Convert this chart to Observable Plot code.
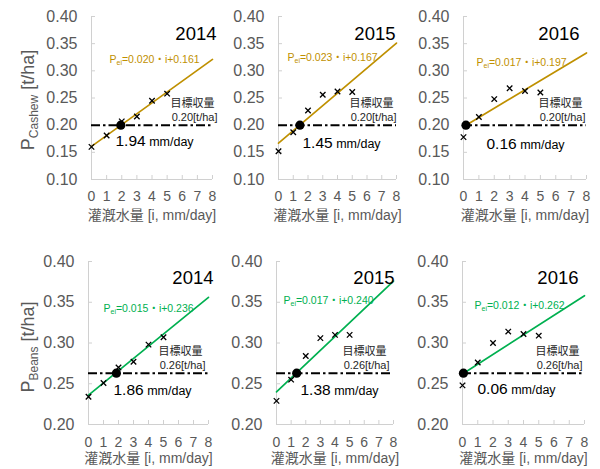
<!DOCTYPE html>
<html><head><meta charset="utf-8">
<script src="https://cdn.jsdelivr.net/npm/d3@7"></script>
<script src="https://cdn.jsdelivr.net/npm/@observablehq/plot@0.6"></script>
<style>
html,body{margin:0;padding:0;background:#fff;overflow:hidden;}
#chart{position:relative;width:600px;height:469px;font-family:"Liberation Sans",Arial,"Noto Sans CJK JP",sans-serif;}
.ylab{position:absolute;transform:translate(-50%,-50%) rotate(-90deg);white-space:nowrap;font-size:18px;line-height:18px;color:#595959;}
.ylab span{font-size:12px;line-height:0;vertical-align:-4px;}
</style></head><body><div id="chart"></div>
<script>
// ---- data ----
const years = [2014, 2015, 2016];
const irrigation = [0, 1, 2, 3, 4, 5];
const xTicks = [0, 1, 2, 3, 4, 5, 6, 7, 8];
const cashewTicks = [0.10, 0.15, 0.20, 0.25, 0.30, 0.35, 0.40];
const beansTicks = [0.20, 0.25, 0.30, 0.35, 0.40];
const cashew2014 = [0.160, 0.181, 0.207, 0.216, 0.245, 0.258];
const cashew2015 = [0.152, 0.187, 0.227, 0.256, 0.262, 0.261];
const cashew2016 = [0.178, 0.215, 0.248, 0.268, 0.263, 0.260];
const beans2014 = [0.234, 0.251, 0.270, 0.277, 0.298, 0.307];
const beans2015 = [0.229, 0.255, 0.284, 0.306, 0.310, 0.310];
const beans2016 = [0.248, 0.276, 0.300, 0.314, 0.311, 0.309];
const cashewSlope = [0.020, 0.023, 0.017];
const cashewIntercept = [0.161, 0.167, 0.197];
const beansSlope = [0.015, 0.017, 0.012];
const beansIntercept = [0.236, 0.240, 0.262];
const cashewCross = [1.94, 1.45, 0.16];
const beansCross = [1.86, 1.38, 0.06];
const cashewTarget = 0.20, beansTarget = 0.263;
const cashewTargetLabel = "0.20[t/ha]", beansTargetLabel = "0.26[t/ha]";
const targetName = "目標収量";
const xLabel = "灌漑水量 [i, mm/day]";

// ---- layout (pixels) ----
const frames = [
  [91, 212, 16, 179], [278, 396, 16, 179], [463, 586, 16, 179],
  [88, 208, 261, 424], [276, 393, 261, 424], [462, 584, 261, 424]
];
const layouts = [
  {yearDx: 4, eq: [18, 39], tgtDx: 5, cross: [24, 16], xPad: 12, xLab: 40, yearDy: 10.5},
  {yearDx: -1, eq: [9, 37], tgtDx: 0, cross: [24, 18], xPad: 12, xLab: 40, yearDy: 10.5},
  {yearDx: -7, eq: [13, 42], tgtDx: -1, cross: [23, 19], xPad: 12, xLab: 40, yearDy: 10.5},
  {yearDx: 5, eq: [15, 43], tgtDx: -3, cross: [25, 17], xPad: 13, xLab: 38, yearDy: 9.5},
  {yearDx: 1, eq: [7, 35], tgtDx: -4, cross: [24, 17], xPad: 13, xLab: 38, yearDy: 9.5},
  {yearDx: -6, eq: [12, 40], tgtDx: -2, cross: [15, 16], xPad: 13, xLab: 38, yearDy: 9.5}
];
const axisGrey = "#d0d0d0", labelGrey = "#595959";
const gold = "#BF9000", green = "#00B050";
const font = '"Liberation Sans", Arial, "Noto Sans CJK JP", sans-serif';

const chart = document.getElementById("chart");

function panel(k, cfg) {
  const [fl, fr, ft, fb] = frames[k];
  const lay = layouts[k];
  const mL = 60, mR = 10, mT = 10, mB = 50;
  const fw = fr - fl, fh = fb - ft;
  const fit = [0, 8].map(x => ({x, y: cfg.intercept + cfg.slope * x}));
  const fmt = d3.format(".3f");
  const eqText = "Pei=" + fmt(cfg.slope) + "・i+" + fmt(cfg.intercept);
  const svg = Plot.plot({
    width: mL + fw + mR, height: mT + fh + mB,
    marginLeft: mL, marginRight: mR, marginTop: mT, marginBottom: mB,
    x: {domain: [0, 8]},
    y: {domain: cfg.yDomain},
    style: {background: "transparent", overflow: "visible", fontFamily: font},
    marks: [
      Plot.ruleX([0], {stroke: axisGrey}),
      Plot.ruleY([cfg.yDomain[0]], {stroke: axisGrey}),
      Plot.tickX(xTicks, {x: d => d, stroke: axisGrey, insetTop: fh - 4}),
      Plot.tickY(cfg.yTicks, {y: d => d, stroke: axisGrey, insetRight: fw - 4}),
      Plot.axisX(xTicks, {tickSize: 0, tickPadding: lay.xPad, fontSize: 14, color: labelGrey, label: null}),
      Plot.axisY(cfg.yTicks, {tickSize: 0, tickPadding: 14, fontSize: 16, color: labelGrey, tickFormat: d3.format(".2f"), label: null}),
      Plot.text([xLabel], {text: d => d, frameAnchor: "bottom", dy: lay.xLab, fontSize: 14, fill: labelGrey}),
      Plot.ruleY([cfg.target], {stroke: "black", strokeWidth: 2, strokeDasharray: "9,3,2.5,3"}),
      Plot.line(fit, {x: "x", y: "y", stroke: cfg.color, strokeWidth: 1.7}),
      Plot.dot(irrigation, {x: d => d, y: (d, i) => cfg.pts[i], symbol: "times", r: 2.6, stroke: "black", strokeWidth: 1.3}),
      Plot.dot([cfg.cross], {x: d => d, y: () => cfg.target, r: 4.6, fill: "black"}),
      Plot.text([cfg.year], {text: d => String(d), frameAnchor: "top-right", textAnchor: "end", dx: lay.yearDx, dy: lay.yearDy, fontSize: 18.5, fill: "black"}),
      Plot.text([eqText], {text: d => d, frameAnchor: "top-left", textAnchor: "start", dx: lay.eq[0], dy: lay.eq[1], fontSize: 10.5, fill: cfg.color}),
      Plot.text([targetName], {text: d => d, y: () => cfg.target, frameAnchor: "right", textAnchor: "end", dx: lay.tgtDx - 3, dy: -22, fontSize: 11, fill: "#262626"}),
      Plot.text([cfg.targetLabel], {text: d => d, y: () => cfg.target, frameAnchor: "right", textAnchor: "end", dx: lay.tgtDx, dy: -8, fontSize: 11, fill: "#262626"}),
      Plot.text([cfg.cross], {text: d => d3.format(".2f")(d) + " mm/day", y: () => cfg.target, frameAnchor: "left", textAnchor: "start", dx: lay.cross[0], dy: lay.cross[1], fontSize: 15.5, fill: "black"})
    ]
  });
  // rich text: subscripts and mixed sizes
  d3.select(svg).selectAll("text").each(function () {
    const t = this.textContent;
    let m;
    if ((m = t.match(/^Pei(=.*)$/))) {
      const s = d3.select(this); s.text("");
      s.append("tspan").text("P");
      s.append("tspan").attr("font-size", 7).attr("dy", 2.5).text("ei");
      s.append("tspan").attr("dy", -2.5).text(m[1]);
    } else if ((m = t.match(/^([\d.]+)( mm\/day)$/))) {
      const s = d3.select(this); s.text("");
      s.append("tspan").text(m[1]);
      s.append("tspan").attr("font-size", 12.5).text(m[2]);
    }
  });
  svg.style.position = "absolute";
  svg.style.left = (fl - mL) + "px";
  svg.style.top = (ft - mT) + "px";
  svg.style.maxWidth = "none";
  chart.appendChild(svg);
}

const cashewSeries = [cashew2014, cashew2015, cashew2016];
const beansSeries = [beans2014, beans2015, beans2016];
years.forEach((year, j) => {
  panel(j, {year, pts: cashewSeries[j], slope: cashewSlope[j], intercept: cashewIntercept[j],
    cross: cashewCross[j], target: cashewTarget, targetLabel: cashewTargetLabel,
    yDomain: [0.10, 0.40], yTicks: cashewTicks, color: gold});
  panel(3 + j, {year, pts: beansSeries[j], slope: beansSlope[j], intercept: beansIntercept[j],
    cross: beansCross[j], target: beansTarget, targetLabel: beansTargetLabel,
    yDomain: [0.20, 0.40], yTicks: beansTicks, color: green});
});

function ylab(name, cx, cy) {
  const d = document.createElement("div");
  d.className = "ylab";
  d.style.left = cx + "px"; d.style.top = cy + "px";
  d.innerHTML = "P<span>" + name + "</span> [t/ha]";
  chart.appendChild(d);
}
ylab("Cashew", 27.5, 100);
ylab("Beans", 27.5, 347);
</script></body></html>
